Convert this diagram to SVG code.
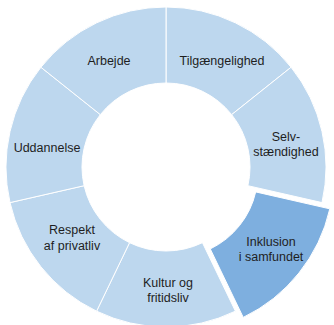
<svg xmlns="http://www.w3.org/2000/svg" width="334" height="325" viewBox="0 0 334 325">
<style>
.seg{fill:#BDD7EE;stroke:#FFFFFF;stroke-width:1}
.hl{fill:#7EAFDF;stroke:#FFFFFF;stroke-width:1}
text{font-family:"Liberation Sans",Arial,sans-serif;font-size:12.5px;fill:#1E1E1E;text-anchor:middle}
</style>
<rect width="334" height="325" fill="#FFFFFF"/>
<g id="tilgaengelighed">
<path class="seg" d="M166,7 A160,160 0 0 1 291.09,67.24 L231.67,114.63 A84,84 0 0 0 166,83 Z"/>
<text x="222" y="65">Tilgængelighed</text>
</g>
<g id="selvstaendighed">
<path class="seg" d="M291.09,67.24 A160,160 0 0 1 321.99,202.6 L247.89,185.69 A84,84 0 0 0 231.67,114.63 Z"/>
<text x="286" y="141">Selv-</text>
<text x="286" y="156">stændighed</text>
</g>
<g id="inklusion" transform="translate(7.82,6.23)">
<path class="hl" d="M321.99,202.6 A160,160 0 0 1 235.42,311.16 L202.45,242.68 A84,84 0 0 0 247.89,185.69 Z"/>
</g>
<g id="inklusion-label">
<text x="271" y="246">Inklusion</text>
<text x="271" y="261">i samfundet</text>
</g>
<g id="kultur">
<path class="seg" d="M235.42,311.16 A160,160 0 0 1 96.58,311.16 L129.55,242.68 A84,84 0 0 0 202.45,242.68 Z"/>
<text x="168" y="287">Kultur og</text>
<text x="168" y="302">fritidsliv</text>
</g>
<g id="respekt">
<path class="seg" d="M96.58,311.16 A160,160 0 0 1 10.01,202.6 L84.11,185.69 A84,84 0 0 0 129.55,242.68 Z"/>
<text x="72" y="234">Respekt</text>
<text x="72" y="250">af privatliv</text>
</g>
<g id="uddannelse">
<path class="seg" d="M10.01,202.6 A160,160 0 0 1 40.91,67.24 L100.33,114.63 A84,84 0 0 0 84.11,185.69 Z"/>
<text x="47" y="152">Uddannelse</text>
</g>
<g id="arbejde">
<path class="seg" d="M40.91,67.24 A160,160 0 0 1 166,7 L166,83 A84,84 0 0 0 100.33,114.63 Z"/>
<text x="109" y="65">Arbejde</text>
</g>
<g id="connectors"></g>
</svg>
